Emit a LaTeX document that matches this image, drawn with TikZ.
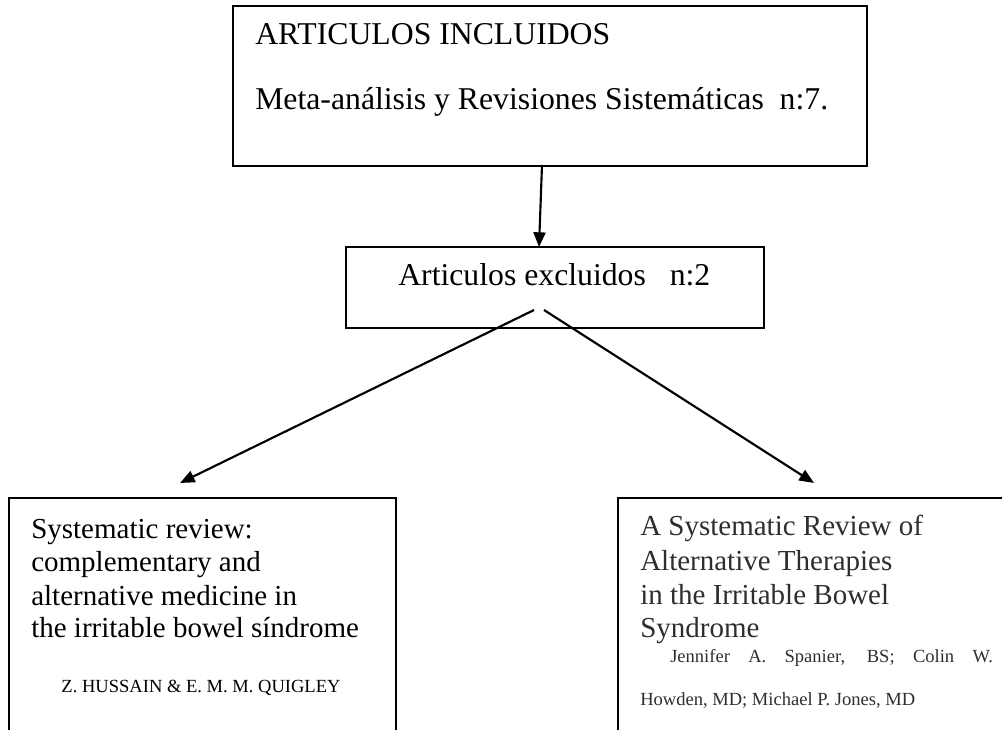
\documentclass[tikz,border=0pt]{standalone}
\usepackage{fontspec}
\setmainfont{Liberation Serif}
\usetikzlibrary{positioning,arrows.meta}

\begin{document}
\begin{tikzpicture}[x=0.75pt,y=-0.75pt,
    box/.style={rectangle, draw, line width=1.6pt, inner sep=0pt},
    heading/.style={anchor=base west, inner sep=0pt, font=\fontsize{23.8}{28}\selectfont},
    paper/.style={anchor=base west, inner sep=0pt, font=\fontsize{21.75}{25}\selectfont},
    authors/.style={anchor=base west, inner sep=0pt, font=\fontsize{13.9}{16}\selectfont},
    link/.style={line width=1.6pt, -{Triangle[length=11pt,width=9pt]}}
]
    \useasboundingbox (0,0) rectangle (1002,730);
    \clip (0,0) rectangle (1002,730);

    % boxes
    \node[box, minimum width=475.5pt, minimum height=120pt] (incl) at (550,86) {};
    \node[box, minimum width=313.5pt, minimum height=60.75pt] (excl) at (555,287.5) {};
    \node[box, minimum width=290.25pt, minimum height=196.5pt] (revA) at (202.5,629) {};
    \node[box, minimum width=301.5pt, minimum height=196.5pt] (revB) at (819,629) {};

    % texts
    \node[heading] (inclTitle) at (255,45) {ARTICULOS INCLUIDOS};
    \node[heading] (inclCount) at (255,110) {Meta-análisis y Revisiones Sistemáticas\ \ n:7.};
    \node[heading] (exclCount) at (398,286) {Articulos excluidos\ \ \ n:2};

    \node[paper] (revA1) at (31,538) {Systematic review:};
    \node[paper] (revA2) at (31,571) {complementary and};
    \node[paper] (revA3) at (31,605) {alternative medicine in};
    \node[paper] (revA4) at (31,637) {the irritable bowel síndrome};
    \node[authors, anchor=base] (revAauth) at (201,692) {Z. HUSSAIN \& E. M. M. QUIGLEY};

    \begin{scope}[every node/.append style={text=black!82}]
    \node[paper] (revB1) at (640,535) {A Systematic Review of};
    \node[paper] (revB2) at (640,570) {Alternative Therapies};
    \node[paper] (revB3) at (640,604) {in the Irritable Bowel};
    \node[paper] (revB4) at (640,637) {Syndrome};
    \node[authors] (revBauth1) at (670,662) {\makebox[242pt][s]{Jennifer A. Spanier, BS; Colin W.}};
    \node[authors] (revBauth2) at (640,705) {Howden, MD; Michael P. Jones, MD};
    \end{scope}

    % connectors
    \coordinate (inclOut) at (542,165);
    \coordinate (exclIn) at (539,247);
    \coordinate (exclOutA) at (534,310);
    \coordinate (exclOutB) at (544,310);
    \coordinate (revAIn) at (180,483);
    \coordinate (revBIn) at (814,483);
    \draw[link] (inclOut) -- (exclIn);
    \draw[link] (exclOutA) -- (revAIn);
    \draw[link] (exclOutB) -- (revBIn);
\end{tikzpicture}
\end{document}
